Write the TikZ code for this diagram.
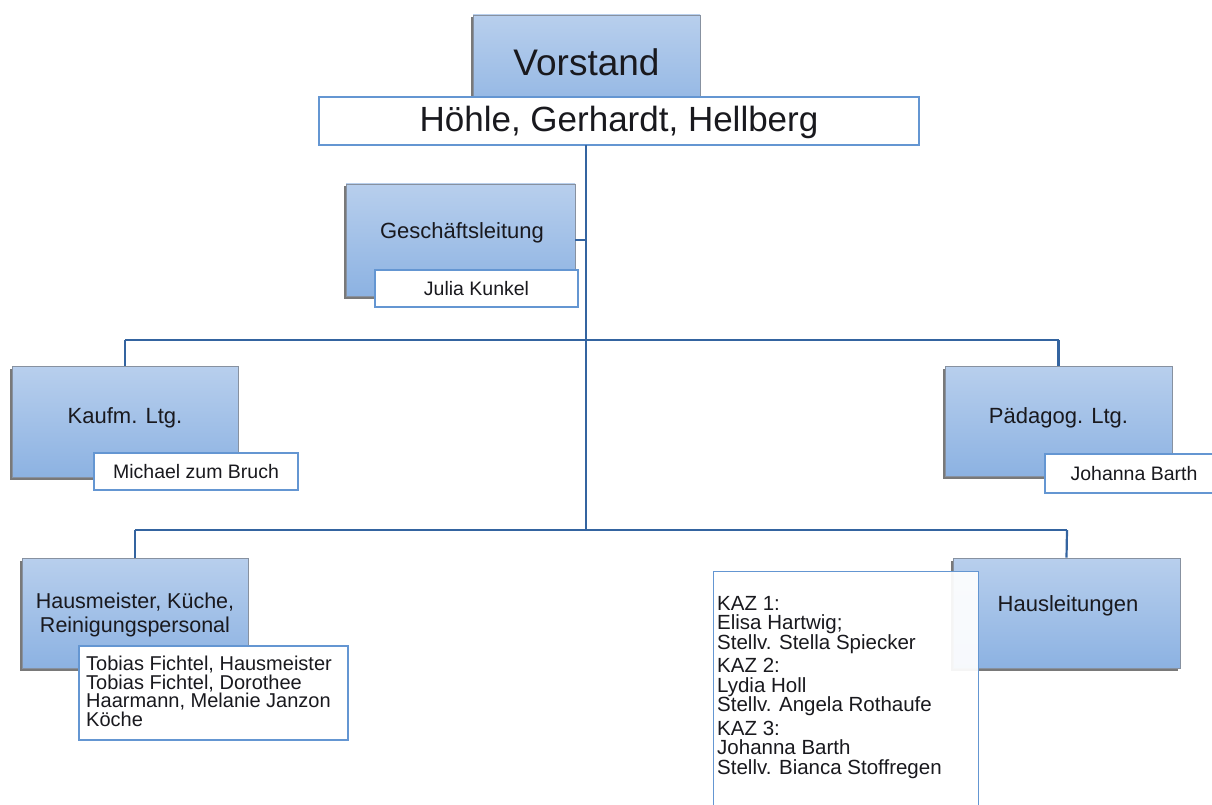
\documentclass[tikz,border=0pt]{standalone}
\usepackage{fontspec}
\setmainfont{Liberation Sans}
\usetikzlibrary{shadows}
\definecolor{boxtop}{RGB}{184,207,237}
\definecolor{boxbot}{RGB}{140,178,226}
\definecolor{boxline}{RGB}{135,145,160}
\definecolor{conncol}{RGB}{52,100,160}
\definecolor{wline}{RGB}{100,150,210}
\definecolor{txt}{RGB}{25,25,30}
\begin{document}
\begin{tikzpicture}[x=1pt,y=-1pt,
 bluebox/.style={draw=boxline, line width=0.8, top color=boxtop, bottom color=boxbot, inner sep=0,
   drop shadow={shadow xshift=-2.5pt, shadow yshift=-2.5pt, fill=black!70, opacity=0.75}},
 whitebox/.style={draw=wline, line width=1.2, fill=white, inner sep=0, text=txt},
 link/.style={draw=conncol, line width=2.2},
 lbl/.style={text=txt, inner sep=0, align=center},
 big/.style={font=\fontsize{37}{44}\selectfont},
 head/.style={font=\fontsize{22}{22}\selectfont},
 small/.style={font=\fontsize{19.5}{19}\selectfont},
]
\useasboundingbox (0,0) rectangle (1212,805);
% junction coordinates
\coordinate (j0) at (586,145);
\coordinate (j1) at (586,240);
\coordinate (j2) at (586,340);
\coordinate (j3) at (586,530);
\coordinate (l1) at (125,340);
\coordinate (r1) at (1058.5,340);
\coordinate (l2) at (135,530);
\coordinate (r2) at (1067,530);

% boxes (positions)
\node[bluebox, minimum width=227, minimum height=110] (vorstand) at (586.5,70) {};
\node[lbl, big] (vorstandT) at (586.5,62) {Vorstand};
\node[whitebox, minimum width=600, minimum height=48] (hoehle) at (619,121) {};
\node[lbl, font=\fontsize{35}{40}\selectfont] (hoehleT) at (619,122) {Höhle, Gerhardt, Hellberg};

% connectors
\draw[link] (j0) -- (j3);
\draw[link] (l1) -- (r1);
\draw[link] (l2) -- (r2);

\node[bluebox, minimum width=229, minimum height=112] (gf) at (460.5,240) {};
\draw[link] (gf.east) -- (j1);
\node[lbl, head] (gfT) at (462,233) {Geschäftsleitung};
\node[whitebox, minimum width=203, minimum height=37, small] (julia) at (476.5,288.5) {Julia Kunkel};

\node[bluebox, minimum width=226, minimum height=111] (kaufm) at (125,421.5) {};
\draw[link] (l1) -- (kaufm.north);
\node[lbl, head] (kaufmT) at (125,418) {Kaufm. Ltg.};
\node[whitebox, minimum width=204, minimum height=37, small] (michael) at (196,471.5) {Michael zum Bruch};

\node[bluebox, minimum width=227, minimum height=110] (paed) at (1058.5,421) {};
\draw[link] (r1) -- (paed.north);
\node[lbl, head] (paedT) at (1058.5,418) {Pädagog. Ltg.};
\node[whitebox, minimum width=172, minimum height=39] (johanna) at (1131,473.5) {};
\node[lbl, small] (johannaT) at (1134,473.5) {Johanna Barth};

\node[bluebox, minimum width=226, minimum height=110] (haus) at (135,613) {};
\draw[link] (l2) -- (haus.north);
\node[lbl, font=\fontsize{21.5}{24}\selectfont] (hausT) at (135,615) {Hausmeister, Küche,\\Reinigungspersonal};
\node[whitebox, minimum width=269, minimum height=94] (tobias) at (213.5,693) {};
\node[lbl, align=left, anchor=north west, font=\fontsize{20}{18.5}\selectfont] (tobiasT) at (86,656)
 {Tobias Fichtel, Hausmeister\\Tobias Fichtel, Dorothee\\Haarmann, Melanie Janzon\\Köche};

\node[bluebox, minimum width=227, minimum height=110] (hl) at (1066.5,613) {};
\draw[link] (r2) -- (hl.north);
\node[lbl, head] (hlT) at (1068,606) {Hausleitungen};
\node[whitebox, fill opacity=0.93, minimum width=265, minimum height=260, anchor=north west] (kaz) at (713,571) {};
\node[lbl, align=left, anchor=north west, font=\fontsize{20.5}{19.5}\selectfont] (kazT) at (717,596)
 {KAZ 1:\\Elisa Hartwig;\\Stellv. Stella Spiecker\\[4pt]KAZ 2:\\Lydia Holl\\Stellv. Angela Rothaufe\\[4pt]KAZ 3:\\Johanna Barth\\Stellv. Bianca Stoffregen};
\end{tikzpicture}
\end{document}
